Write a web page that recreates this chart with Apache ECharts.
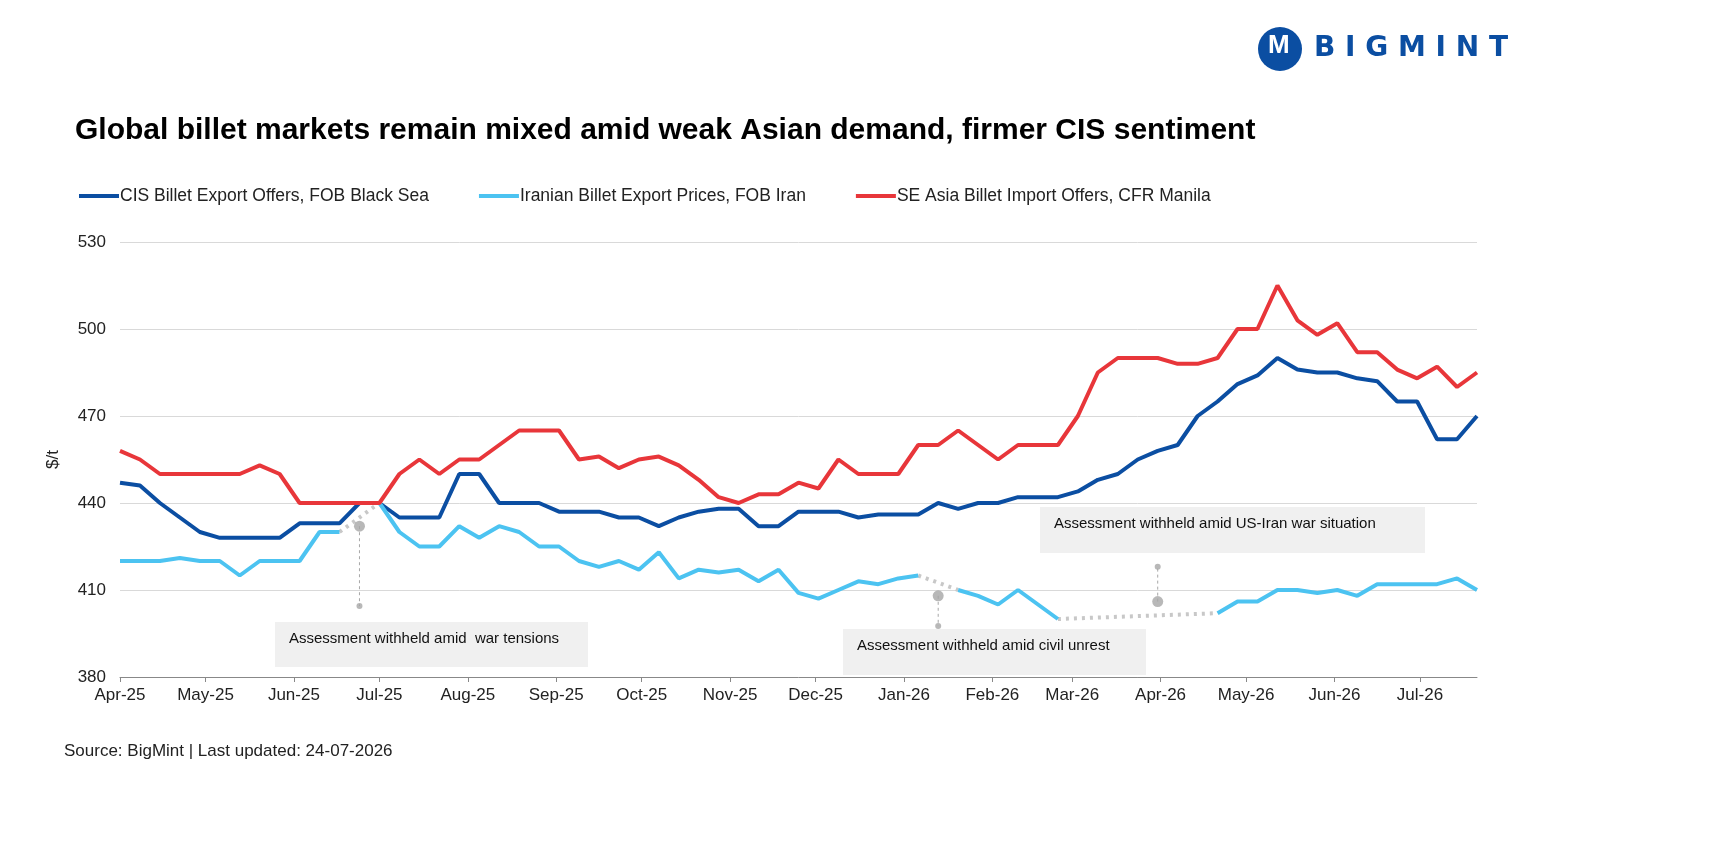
<!DOCTYPE html>
<html><head><meta charset="utf-8">
<script src="https://cdn.jsdelivr.net/npm/echarts@6/dist/echarts.min.js"></script>
<style>html,body{margin:0;padding:0;background:#fff}#c{width:1712px;height:857px}</style>
</head><body><div id="c"></div>
<script>
const startDate = '2025-04-01';
const weeks = 69;
const cis = [447,446,440,435,430,428,428,428,428,433,433,433,440,440,435,435,435,450,450,440,440,440,437,437,437,435,435,432,435,437,438,438,432,432,437,437,437,435,436,436,436,440,438,440,440,442,442,442,444,448,450,455,458,460,470,475,481,484,490,486,485,485,483,482,475,475,462,462,470];
const iran = [420,420,420,421,420,420,415,420,420,420,430,430,null,440,430,425,425,432,428,432,430,425,425,420,418,420,417,423,414,417,416,417,413,417,409,407,410,413,412,414,415,null,410,408,405,410,405,400,null,null,null,null,null,null,null,402,406,406,410,410,409,410,408,412,412,412,412,414,410];
const sea = [458,455,450,450,450,450,450,453,450,440,440,440,440,440,450,455,450,455,455,460,465,465,465,455,456,452,455,456,453,448,442,440,443,443,447,445,455,450,450,450,460,460,465,460,455,460,460,460,470,485,490,490,490,488,488,490,500,500,515,503,498,502,492,492,486,483,487,480,485];
const gaps = [[11,13],[40,42],[47,55]];
const bigDots = [[12,432],[41,408],[52,406]];
const smallDots = [[12,404.5],[41,397.6],[52,418]];
const months = ['Jan','Feb','Mar','Apr','May','Jun','Jul','Aug','Sep','Oct','Nov','Dec'];

const t0 = new Date(startDate+'T00:00:00Z').getTime();
const dates = Array.from({length:weeks},(_,i)=>t0+i*7*86400000);
const pair = arr => arr.map((v,i)=>[dates[i], v]);
const series = [
 {name:'CIS Billet Export Offers, FOB Black Sea',type:'line',data:pair(cis),color:'#0b4ea2'},
 {name:'Iranian Billet Export Prices, FOB Iran',type:'line',data:pair(iran),color:'#4cc3f1',connectNulls:false},
 {name:'SE Asia Billet Import Offers, CFR Manila',type:'line',data:pair(sea),color:'#e8363a'}
].map(s=>Object.assign(s,{showSymbol:false,symbol:'none',lineStyle:{width:4},z:3}));
gaps.forEach(g=>series.push({type:'line',symbol:'none',data:[[dates[g[0]],iran[g[0]]],[dates[g[1]],iran[g[1]]]],lineStyle:{color:'#c8c8c8',width:4,type:[3,5]},z:2,silent:true}));
bigDots.forEach((d,i)=>{
 series.push({type:'line',symbol:'none',data:[[dates[d[0]],d[1]],[dates[smallDots[i][0]],smallDots[i][1]]],lineStyle:{color:'#a8a8a8',width:1,type:[3,3]},z:2,silent:true});
});
series.push({type:'scatter',data:bigDots.map(d=>[dates[d[0]],d[1]]),symbolSize:11,itemStyle:{color:'#a6a6a6'},z:4,silent:true});
series.push({type:'scatter',data:smallDots.map(d=>[dates[d[0]],d[1]]),symbolSize:6,itemStyle:{color:'#a6a6a6'},z:4,silent:true});

const box=(x,y,w,h,t)=>({type:'group',children:[
 {type:'rect',shape:{x:x,y:y,width:w,height:h},style:{fill:'#f0f0f0'}},
 {type:'text',x:x+14,y:y+9,style:{text:t,fontSize:15,fill:'#111',fontFamily:'Liberation Sans'}}]});

const chart = echarts.init(document.getElementById('c'));
chart.setOption({
 animation:false,
 textStyle:{fontFamily:'Liberation Sans'},
 title:{text:'Global billet markets remain mixed amid weak Asian demand, firmer CIS sentiment',left:70,top:111,textStyle:{fontSize:30,fontWeight:'bold',color:'#000'}},
 legend:{data:series.slice(0,3).map(s=>s.name),left:74,top:182,itemGap:50,itemWidth:40,itemHeight:4,icon:'rect',textStyle:{fontSize:17.5,color:'#222',padding:[0,0,0,-4]}},
 grid:{left:120,right:235,top:242,bottom:180},
 xAxis:{type:'time',min:dates[0],max:dates[weeks-1],minInterval:28*86400000,maxInterval:31*86400000,
   axisLine:{lineStyle:{color:'#888'}},axisTick:{show:true,lineStyle:{color:'#888'}},splitLine:{show:false},
   axisLabel:{fontSize:17,color:'#222',margin:10,hideOverlap:false,formatter:v=>{const d=new Date(v);return months[d.getUTCMonth()]+'-'+String(d.getUTCFullYear()).slice(2);}}},
 yAxis:{type:'value',min:380,max:530,interval:30,name:'$/t',nameLocation:'middle',nameGap:58,nameTextStyle:{fontSize:17,color:'#222'},
   axisLabel:{fontSize:17,color:'#222',margin:14},splitLine:{lineStyle:{color:'#d9d9d9'}},axisLine:{show:false},axisTick:{show:false}},
 graphic:[
  box(275,622,313,45,'Assessment withheld amid  war tensions'),
  box(843,629,303,46,'Assessment withheld amid civil unrest'),
  box(1040,507,385,46,'Assessment withheld amid US-Iran war situation'),
  {type:'text',left:64,top:743,style:{text:'Source: BigMint | Last updated: 24-07-2026',fontSize:17,fill:'#222'}},
  {type:'circle',shape:{cx:1280,cy:49,r:22},style:{fill:'#0b4ea2'}},
  {type:'text',x:1268,y:33,style:{text:'M',fontSize:26,fontWeight:'bold',fill:'#fff'}},
  {type:'text',x:1314,y:35,style:{text:'B I G M I N T',fontSize:28,fontWeight:'bold',fill:'#0b4ea2',fontFamily:'DejaVu Sans'}}
 ],
 series:series
});
</script></body></html>
